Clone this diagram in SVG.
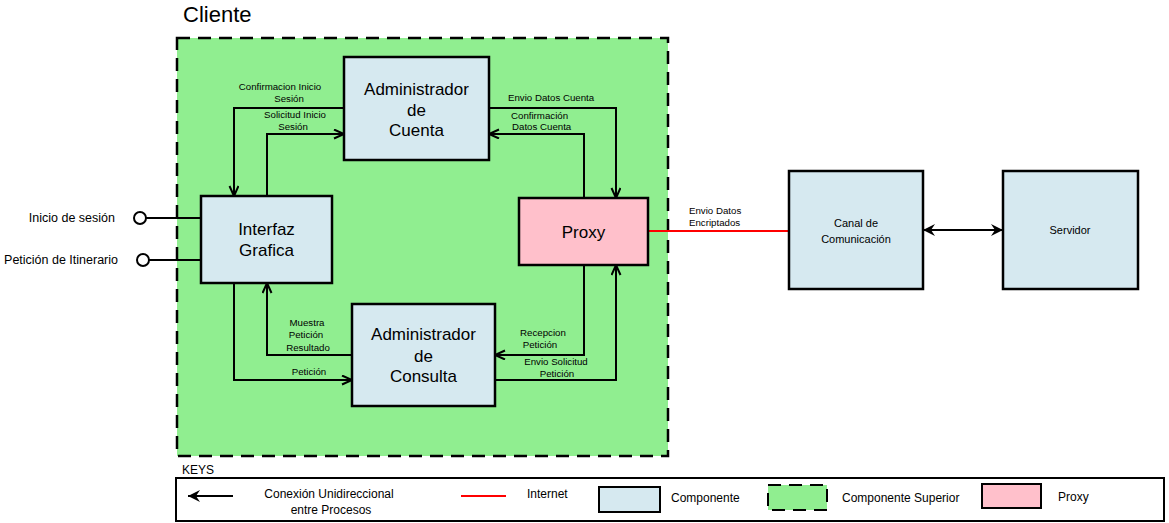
<svg xmlns="http://www.w3.org/2000/svg" width="1169" height="523" viewBox="0 0 1169 523">
<style>
text{font-family:"Liberation Sans",Arial,sans-serif;fill:#000}
.box{fill:#d6e9f0;stroke:#000;stroke-width:2.5}
.proxy{fill:#ffc0cb;stroke:#000;stroke-width:2.5}
.big{font-size:17px;text-anchor:middle}
.mid{font-size:11px;text-anchor:middle}
.sm{font-size:9.7px}
.smc{font-size:9.7px;text-anchor:middle}
.lg{font-size:12px}
.conn{fill:none;stroke:#000;stroke-width:2}
</style>
<defs>
<marker id="v" markerUnits="userSpaceOnUse" markerWidth="14" markerHeight="12" refX="11" refY="5" orient="auto" viewBox="0 0 14 12">
<path d="M1,0.5 L11,5 L1,9.5" fill="none" stroke="#000" stroke-width="2"/>
</marker>
<marker id="f" markerUnits="userSpaceOnUse" markerWidth="14" markerHeight="14" refX="12" refY="6" orient="auto-start-reverse" viewBox="0 0 14 12">
<path d="M0,0 L12,6 L0,12 L4,6 z" fill="#000"/>
</marker>
</defs>

<text x="183" y="22" style="font-size:22px">Cliente</text>
<g id="cliente">
<rect x="177" y="38" width="491" height="418" fill="#90ee90" stroke="#000" stroke-width="2.5" stroke-dasharray="13,8"/>
</g>

<g id="connectors">
<path class="conn" d="M344,108 H234 V196" marker-end="url(#v)"/>
<path class="conn" d="M267,196 V134 H344" marker-end="url(#v)"/>
<path class="conn" d="M489,108 H616 V198" marker-end="url(#v)"/>
<path class="conn" d="M584,198 V134 H489" marker-end="url(#v)"/>
<path class="conn" d="M234,283 V380 H352" marker-end="url(#v)"/>
<path class="conn" d="M352,355 H267 V283" marker-end="url(#v)"/>
<path class="conn" d="M584,265 V355 H495" marker-end="url(#v)"/>
<path class="conn" d="M495,380 H616 V265" marker-end="url(#v)"/>
<path d="M648,231 H789" stroke="#ff0000" stroke-width="2" fill="none"/>
<path class="conn" d="M923,230 H1003" marker-start="url(#f)" marker-end="url(#f)"/>
<path class="conn" d="M146,218 H201"/>
<path class="conn" d="M149,260 H201"/>
<circle cx="140" cy="218" r="6" fill="#fff" stroke="#000" stroke-width="2"/>
<circle cx="143" cy="260" r="6" fill="#fff" stroke="#000" stroke-width="2"/>
<text class="smc" x="280" y="90">Confirmacion Inicio</text>
<text class="smc" x="289" y="102">Sesión</text>
<text class="smc" x="295" y="118">Solicitud Inicio</text>
<text class="smc" x="293" y="130">Sesión</text>
<text class="sm" x="508" y="101">Envio Datos Cuenta</text>
<text class="sm" x="511" y="119">Confirmación</text>
<text class="sm" x="512" y="130">Datos Cuenta</text>
<text class="smc" x="307" y="326">Muestra</text>
<text class="smc" x="306" y="338">Petición</text>
<text class="smc" x="308" y="351">Resultado</text>
<text class="smc" x="309" y="375">Petición</text>
<text class="smc" x="543" y="336">Recepcion</text>
<text class="smc" x="540" y="348">Petición</text>
<text class="smc" x="556" y="365">Envio Solicitud</text>
<text class="smc" x="557" y="377">Petición</text>
<text class="sm" x="689" y="214">Envio Datos</text>
<text class="sm" x="689" y="226">Encriptados</text>
<text x="115" y="222" style="font-size:12.5px;text-anchor:end">Inicio de sesión</text>
<text x="118" y="264" style="font-size:12.5px;text-anchor:end">Petición de Itinerario</text>
</g>

<g id="adm-cuenta">
<rect class="box" x="344" y="57" width="145" height="103"/>
<text class="big" x="416.5" y="95">Administrador</text>
<text class="big" x="416.5" y="116">de</text>
<text class="big" x="416.5" y="136">Cuenta</text>
</g>
<g id="interfaz">
<rect class="box" x="201" y="196" width="131" height="87"/>
<text class="big" x="266.5" y="235">Interfaz</text>
<text class="big" x="266.5" y="256">Grafica</text>
</g>
<g id="proxy">
<rect class="proxy" x="519" y="198" width="129" height="67"/>
<text class="big" x="583.5" y="238">Proxy</text>
</g>
<g id="adm-consulta">
<rect class="box" x="352" y="304" width="143" height="102"/>
<text class="big" x="423.5" y="340">Administrador</text>
<text class="big" x="423.5" y="362">de</text>
<text class="big" x="423.5" y="382">Consulta</text>
</g>
<g id="canal">
<rect class="box" x="789" y="171" width="134" height="118"/>
<text class="mid" x="856" y="227">Canal de</text>
<text class="mid" x="856" y="243">Comunicación</text>
</g>
<g id="servidor">
<rect class="box" x="1003" y="171" width="135" height="118"/>
<text class="mid" x="1070" y="234">Servidor</text>
</g>

<g id="keys">
<text x="182" y="474" style="font-size:12px">KEYS</text>
<rect x="176" y="478" width="988" height="43" fill="#fff" stroke="#000" stroke-width="2"/>
<path class="conn" d="M233,496 H188" marker-end="url(#f)"/>
<text class="lg" x="329" y="498" text-anchor="middle">Conexión Unidireccional</text>
<text class="lg" x="331" y="514" text-anchor="middle">entre Procesos</text>
<path d="M461,496 H506" stroke="#ff0000" stroke-width="2"/>
<text class="lg" x="527" y="498">Internet</text>
<rect x="599" y="487" width="61" height="25" fill="#d6e9f0" stroke="#000" stroke-width="2"/>
<text class="lg" x="671" y="502">Componente</text>
<rect x="768" y="485" width="59" height="25" fill="#90ee90" stroke="#000" stroke-width="2" stroke-dasharray="13,8"/>
<text class="lg" x="842" y="502">Componente Superior</text>
<rect x="982" y="484" width="59" height="24" fill="#ffc0cb" stroke="#000" stroke-width="2"/>
<text class="lg" x="1058" y="501">Proxy</text>
</g>
</svg>
